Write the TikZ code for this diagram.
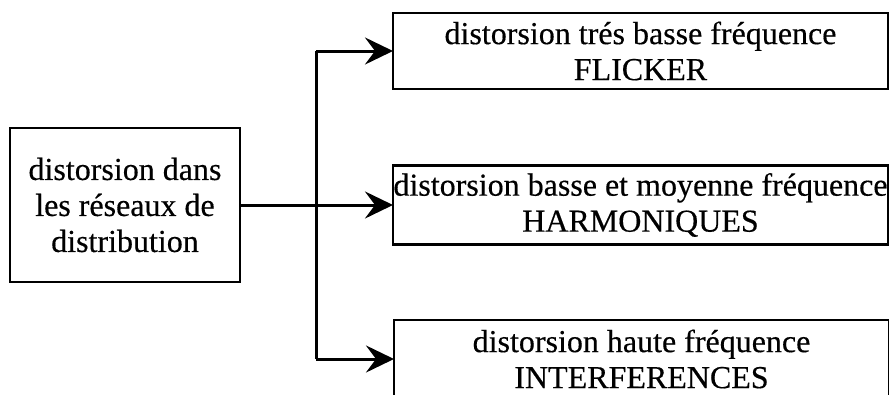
\documentclass[tikz,border=0pt]{standalone}
\usepackage{fontspec}
\setmainfont{Liberation Serif}[FakeBold=0.4]
\usetikzlibrary{arrows.meta}
\begin{document}
\begin{tikzpicture}[x=1pt,y=-1pt,
  every node/.style={inner sep=0pt,outer sep=0pt},
  box/.style={draw,line width=2.4pt,align=center,
    font=\fontsize{32}{36}\selectfont},
  conn/.style={line width=3pt,
    -{Stealth[length=28pt,width=27pt,inset=10pt]}},
  trunk/.style={line width=3pt}]
\useasboundingbox (0,0) rectangle (889,394);
\clip (0,0) rectangle (889,394);
% source block
\node[box,minimum width=230pt,minimum height=154pt] (src) at (125,205)
  {distorsion dans\\les réseaux de\\distribution};
% the three kinds of distortion
\node[box,minimum width=495pt,minimum height=76pt] (tbf) at (640.5,51)
  {distorsion trés basse fréquence\\FLICKER};
\node[box,minimum width=495pt,minimum height=79pt] (bmf) at (640.5,205)
  {distorsion basse et moyenne fréquence\\HARMONIQUES};
\node[box,minimum width=495pt,minimum height=78pt] (hf) at (641.5,359)
  {distorsion haute fréquence\\INTERFERENCES};
% branching connectors
\coordinate (j) at (316,205);
\draw[conn] (src.east) -- (bmf.west);
\draw[trunk] (j |- tbf.west) -- (j |- hf.west);
\draw[conn] (j |- tbf.west) -- (tbf.west);
\draw[conn] (j |- hf.west) -- (hf.west);
\end{tikzpicture}
\end{document}
